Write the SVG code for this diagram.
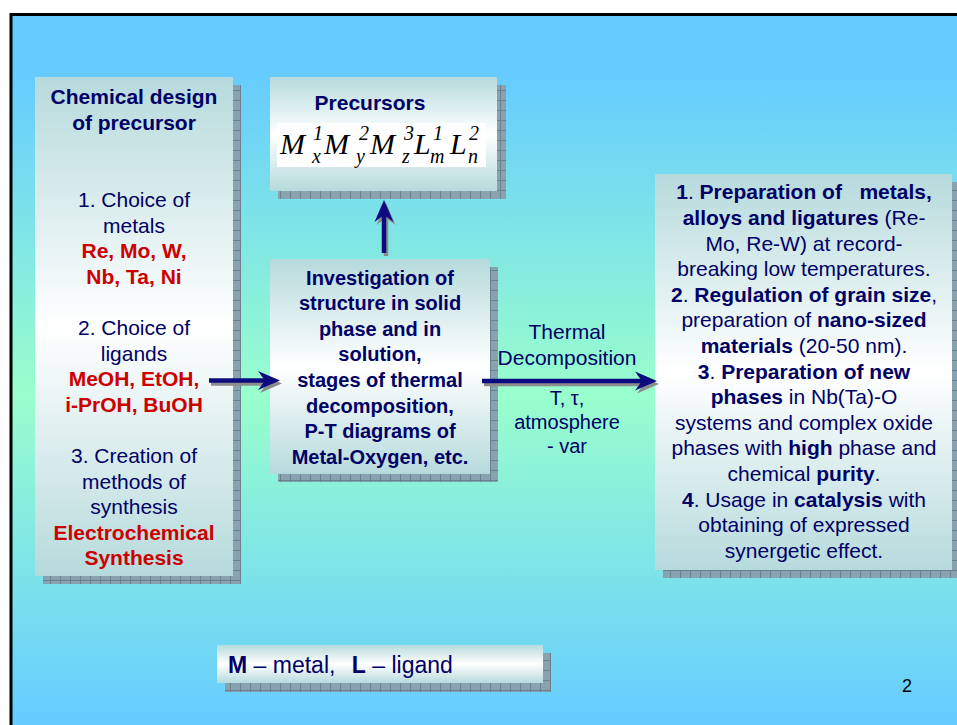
<svg xmlns="http://www.w3.org/2000/svg" width="957" height="725" viewBox="0 0 957 725">
<defs>
<linearGradient id="bg" x1="0" y1="0" x2="0" y2="1">
<stop offset="0" stop-color="#66CCFF"/>
<stop offset="0.08" stop-color="#66CCFF"/>
<stop offset="0.5" stop-color="#99FFCC"/>
<stop offset="0.93" stop-color="#66CCFF"/>
<stop offset="1" stop-color="#66CCFF"/>
</linearGradient>
<linearGradient id="boxfill" x1="0" y1="0" x2="0" y2="1">
<stop offset="0" stop-color="#B6DADC"/>
<stop offset="0.5" stop-color="#FFFFFF"/>
<stop offset="1" stop-color="#B6DADC"/>
</linearGradient>
<pattern id="hatch" width="10" height="10" patternUnits="userSpaceOnUse">
<rect width="10" height="10" fill="#88A2AF"/>
<path d="M0,0.5 H10 M0.5,0 V10" stroke="#6A8290" stroke-width="1" fill="none"/>
</pattern>
<marker id="head" viewBox="-22 -10 23 20" refX="-12" refY="0" markerWidth="23" markerHeight="20" markerUnits="userSpaceOnUse" orient="auto">
<path d="M0,0 L-22,-9.5 L-15,0 L-22,9.5 Z" fill="#0C0C80"/>
</marker>
<marker id="headS" viewBox="-22 -10 23 20" refX="-12" refY="0" markerWidth="23" markerHeight="20" markerUnits="userSpaceOnUse" orient="auto">
<path d="M0,0 L-22,-9.5 L-15,0 L-22,9.5 Z" fill="#8C8C8C"/>
</marker>
</defs>
<style>
text{font-family:"Liberation Sans",Arial,sans-serif;fill:#000066}
.t21{font-size:21px}
.t20{font-size:20px}
.b{font-weight:bold}
.red{fill:#CC0000;font-weight:bold}
.m{text-anchor:middle}
.box{fill:url(#boxfill)}
.shadow{fill:url(#hatch)}
.fx{font-family:"Liberation Serif","Times New Roman",serif;font-style:italic;fill:#000}
.base{font-size:30px}
.scr{font-size:20px}
.arr{stroke:#0C0C80;stroke-width:4.5;fill:none;marker-end:url(#head)}
.arrS{stroke:#8C8C8C;stroke-width:4.5;fill:none;marker-end:url(#headS)}
</style>
<rect x="0" y="0" width="957" height="725" fill="#FFFFFF"/>
<rect x="11" y="14.5" width="1000" height="760" fill="url(#bg)" stroke="#000" stroke-width="3"/>

<g id="node-design">
<rect class="shadow" x="43" y="85" width="198" height="499"/>
<rect class="box" x="35" y="77" width="198" height="499"/>
<text class="t21 m b" x="134" y="104">Chemical design</text>
<text class="t21 m b" x="134" y="130">of precursor</text>
<text class="t21 m" x="134" y="207">1. Choice of</text>
<text class="t21 m" x="134" y="232.6">metals</text>
<text class="t21 m red" x="134" y="258.2">Re, Mo, W,</text>
<text class="t21 m red" x="134" y="283.8">Nb, Ta, Ni</text>
<text class="t21 m" x="134" y="335">2. Choice of</text>
<text class="t21 m" x="134" y="360.6">ligands</text>
<text class="t21 m red" x="134" y="386.2">MeOH, EtOH,</text>
<text class="t21 m red" x="134" y="411.8">i-PrOH, BuOH</text>
<text class="t21 m" x="134" y="463">3. Creation of</text>
<text class="t21 m" x="134" y="488.6">methods of</text>
<text class="t21 m" x="134" y="514.2">synthesis</text>
<text class="t21 m red" x="134" y="539.8">Electrochemical</text>
<text class="t21 m red" x="134" y="565.4">Synthesis</text>
</g>

<g id="node-precursors">
<rect class="shadow" x="278" y="85" width="228" height="114"/>
<rect class="box" x="270" y="77" width="227" height="114"/>
<text class="t21 m b" x="370" y="110">Precursors</text>
<rect x="277" y="123" width="209" height="44" fill="#FFFFFF"/>
<text class="fx base" x="280" y="154">M</text>
<text class="fx scr" x="313" y="140">1</text>
<text class="fx scr" x="312" y="163">x</text>
<text class="fx base" x="324" y="154">M</text>
<text class="fx scr" x="359" y="140">2</text>
<text class="fx scr" x="356" y="163">y</text>
<text class="fx base" x="370" y="154">M</text>
<text class="fx scr" x="404" y="140">3</text>
<text class="fx scr" x="402" y="163">z</text>
<text class="fx base" x="414" y="154">L</text>
<text class="fx scr" x="433" y="140">1</text>
<text class="fx scr" x="430" y="163">m</text>
<text class="fx base" x="450" y="154">L</text>
<text class="fx scr" x="469" y="140">2</text>
<text class="fx scr" x="468" y="163">n</text>
</g>

<g id="node-investigation">
<rect class="shadow" x="278" y="267" width="220" height="215"/>
<rect class="box" x="270" y="259" width="220" height="215"/>
<text class="t20 m b" x="380" y="284.5">Investigation of</text>
<text class="t20 m b" x="380" y="310.1">structure in solid</text>
<text class="t20 m b" x="380" y="335.7">phase and in</text>
<text class="t20 m b" x="380" y="361.3">solution,</text>
<text class="t20 m b" x="380" y="386.9">stages of thermal</text>
<text class="t20 m b" x="380" y="412.5">decomposition,</text>
<text class="t20 m b" x="380" y="438.1">P-T diagrams of</text>
<text class="t20 m b" x="380" y="463.7">Metal-Oxygen, etc.</text>
</g>

<g id="node-results">
<rect class="shadow" x="663" y="182" width="297" height="396"/>
<rect class="box" x="655" y="174" width="297" height="396"/>
<text class="t21 m" x="804" y="199.3" xml:space="preserve"><tspan class="b">1</tspan>. <tspan class="b">Preparation of   metals,</tspan></text>
<text class="t21 m" x="804" y="224.9"><tspan class="b">alloys and ligatures</tspan> (Re-</text>
<text class="t21 m" x="804" y="250.5">Mo, Re-W) at record-</text>
<text class="t21 m" x="804" y="276.1">breaking low temperatures.</text>
<text class="t21 m" x="804" y="301.7"><tspan class="b">2</tspan>. <tspan class="b">Regulation of grain size</tspan>,</text>
<text class="t21 m" x="804" y="327.3">preparation of <tspan class="b">nano-sized</tspan></text>
<text class="t21 m" x="804" y="352.9"><tspan class="b">materials</tspan> (20-50 nm).</text>
<text class="t21 m" x="804" y="378.5"><tspan class="b">3</tspan>. <tspan class="b">Preparation of new</tspan></text>
<text class="t21 m" x="804" y="404.1"><tspan class="b">phases</tspan> in Nb(Ta)-O</text>
<text class="t21 m" x="804" y="429.7">systems and complex oxide</text>
<text class="t21 m" x="804" y="455.3">phases with <tspan class="b">high</tspan> phase and</text>
<text class="t21 m" x="804" y="480.9">chemical <tspan class="b">purity</tspan>.</text>
<text class="t21 m" x="804" y="506.5"><tspan class="b">4</tspan>. Usage in <tspan class="b">catalysis</tspan> with</text>
<text class="t21 m" x="804" y="532.1">obtaining of expressed</text>
<text class="t21 m" x="804" y="557.7">synergetic effect.</text>
</g>

<g id="node-legend">
<rect class="shadow" x="225" y="653" width="326" height="39"/>
<rect class="box" x="217" y="645" width="326" height="38"/>
<text x="228" y="673" font-size="23"><tspan class="b">M</tspan> – metal, <tspan class="b" dx="10">L</tspan> – ligand</text>
</g>

<g id="label-thermal">
<text class="t21 m" x="567" y="339">Thermal</text>
<text class="t21 m" x="567" y="365">Decomposition</text>
<text class="t20 m" x="567" y="405">T, τ,</text>
<text class="t20 m" x="567" y="429">atmosphere</text>
<text class="t20 m" x="567" y="453">- var</text>
</g>

<g id="connectors">
<g transform="translate(2,3)">
<line class="arrS" x1="209" y1="380.5" x2="268" y2="380.5"/>
<line class="arrS" x1="384" y1="253" x2="384" y2="212"/>
<line class="arrS" x1="482" y1="381" x2="645" y2="381"/>
</g>
<line class="arr" x1="209" y1="380.5" x2="268" y2="380.5"/>
<line class="arr" x1="384" y1="253" x2="384" y2="212"/>
<line class="arr" x1="482" y1="381" x2="645" y2="381"/>
</g>

<text x="907" y="692" font-size="18" text-anchor="middle" style="fill:#000">2</text>
</svg>
